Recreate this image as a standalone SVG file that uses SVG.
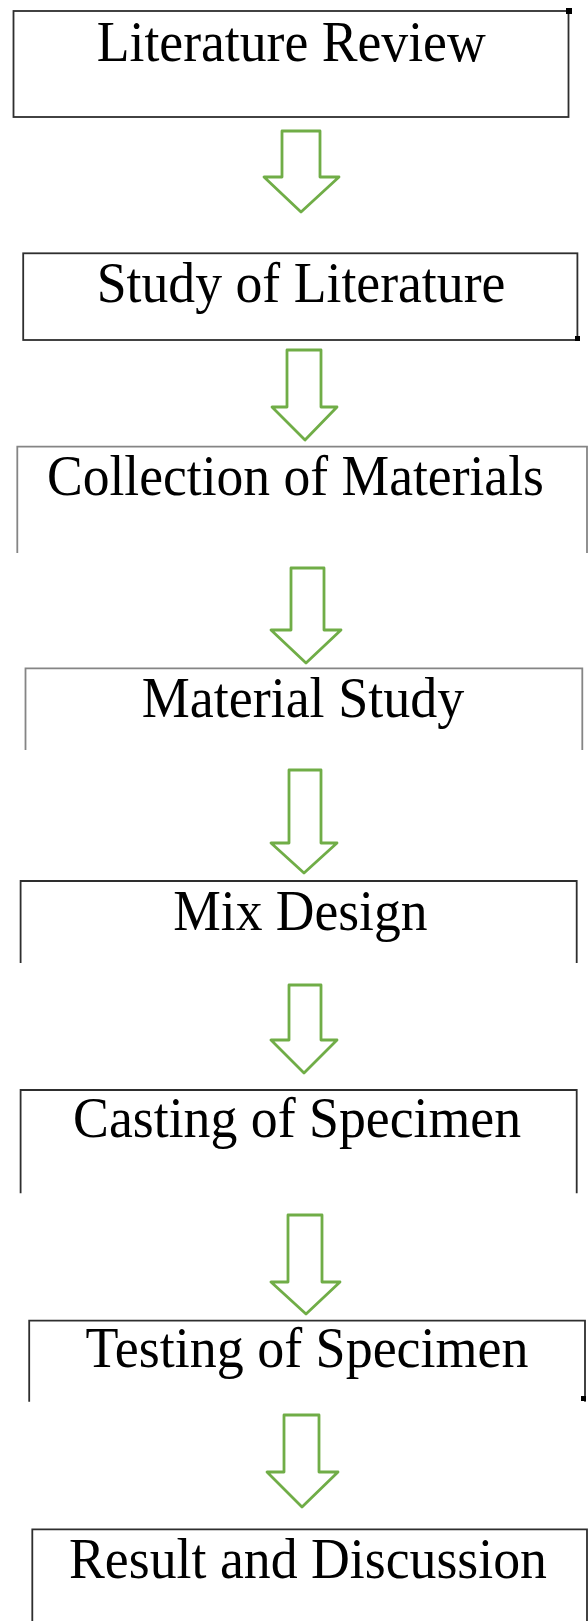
<svg xmlns="http://www.w3.org/2000/svg" width="588" height="1621" viewBox="0 0 588 1621">
  <style>
    .frame { fill: none; stroke: #2e2e2e; stroke-width: 1.8; }
    .frame-soft { fill: none; stroke: #858585; stroke-width: 1.8; }
    .label { font-family: "Liberation Serif", "Times New Roman", serif; font-size: 56px; fill: #000000; }
    .flow { fill: #ffffff; stroke: #70ad47; stroke-width: 2.8; stroke-linejoin: round; }
    .dot { fill: #000000; }
  </style>
  <rect x="0" y="0" width="588" height="1621" fill="#ffffff"/>

  <!-- process steps -->
  <g id="step-literature-review">
    <rect class="frame" x="13.5" y="11" width="555" height="106"/>
    <rect class="dot" x="566" y="8" width="6" height="6"/>
    <text class="label" x="96.7" y="61" textLength="389" lengthAdjust="spacingAndGlyphs">Literature Review</text>
  </g>

  <g id="step-study-of-literature">
    <rect class="frame" x="23.2" y="253.3" width="554.2" height="86.7"/>
    <rect class="dot" x="575" y="336" width="5" height="5"/>
    <text class="label" x="96.7" y="301.7" textLength="408.7" lengthAdjust="spacingAndGlyphs">Study of Literature</text>
  </g>

  <g id="step-collection-of-materials">
    <path class="frame-soft" d="M17.3 553 V446.7 H587 V553"/>
    <text class="label" x="46.9" y="495" textLength="497" lengthAdjust="spacingAndGlyphs">Collection of Materials</text>
  </g>

  <g id="step-material-study">
    <path class="frame-soft" d="M25.5 750 V668.3 H582.3 V750"/>
    <text class="label" x="141.7" y="716.7" textLength="322.5" lengthAdjust="spacingAndGlyphs">Material Study</text>
  </g>

  <g id="step-mix-design">
    <path class="frame" d="M20.6 963 V881 H576.7 V963"/>
    <text class="label" x="173.2" y="930" textLength="254.3" lengthAdjust="spacingAndGlyphs">Mix Design</text>
  </g>

  <g id="step-casting-of-specimen">
    <path class="frame" d="M20.6 1193.3 V1090 H576.7 V1193.3"/>
    <text class="label" x="73.1" y="1136.7" textLength="448" lengthAdjust="spacingAndGlyphs">Casting of Specimen</text>
  </g>

  <g id="step-testing-of-specimen">
    <path class="frame" d="M29.2 1401.7 V1320.7 H585 V1401.7"/>
    <rect class="dot" x="581" y="1396" width="5" height="5"/>
    <text class="label" x="85.5" y="1367.3" textLength="443" lengthAdjust="spacingAndGlyphs">Testing of Specimen</text>
  </g>

  <g id="step-result-and-discussion">
    <path class="frame" d="M32.3 1621 V1529.3 H587 V1621"/>
    <text class="label" x="69" y="1577.7" textLength="478" lengthAdjust="spacingAndGlyphs">Result and Discussion</text>
  </g>

  <!-- block arrows between steps -->
  <g id="connectors">
    <polygon class="flow" points="282,131 320,131 320,177 339,177 301,212 264,177 282,177"/>
    <polygon class="flow" points="287,350 321,350 321,407 337,407 305,440 272,407 287,407"/>
    <polygon class="flow" points="291,568 324,568 324,630 341,630 306,663 271,630 291,630"/>
    <polygon class="flow" points="289,770 321,770 321,843 337,843 304,873 271,843 289,843"/>
    <polygon class="flow" points="289,985 321,985 321,1040 337,1040 304,1073 271,1040 289,1040"/>
    <polygon class="flow" points="288,1215 322,1215 322,1282 340,1282 306,1314 271,1282 288,1282"/>
    <polygon class="flow" points="284,1415 319,1415 319,1472 338,1472 302,1507 267,1472 284,1472"/>
  </g>
</svg>
